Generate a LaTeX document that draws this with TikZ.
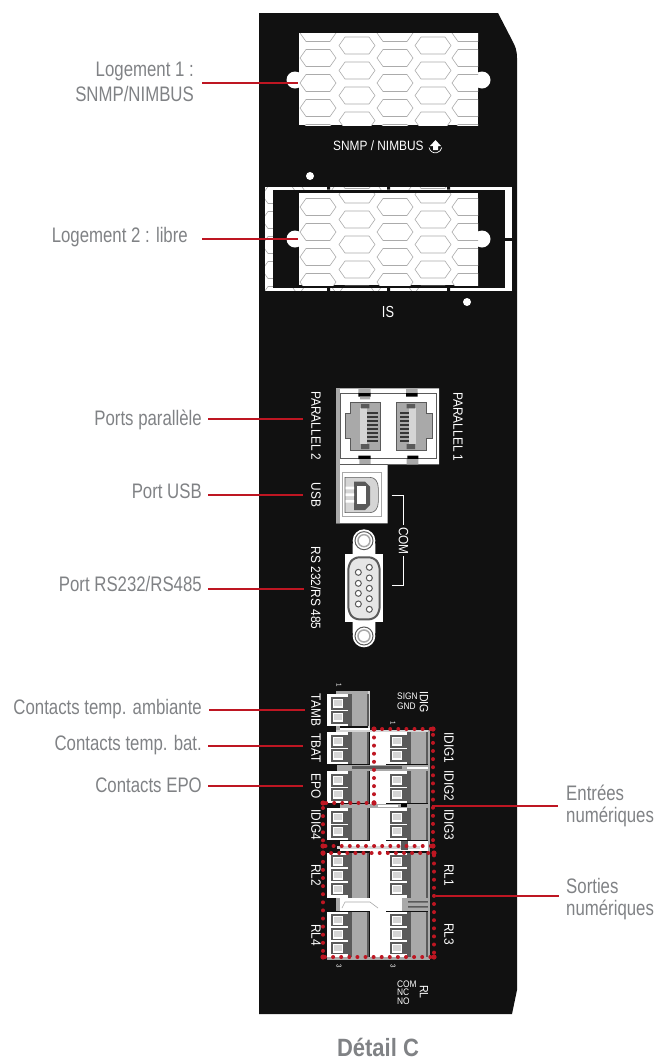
\documentclass[tikz,border=0pt]{standalone}
\usepackage{fontspec}
\setmainfont[FakeStretch=0.8]{Liberation Sans}
\newfontfamily\widerfont[FakeStretch=0.88]{Liberation Sans}
\definecolor{panel}{HTML}{111111}
\definecolor{lab}{HTML}{808285}
\definecolor{rd}{HTML}{BE1622}
\definecolor{hexline}{HTML}{ABABAB}
\definecolor{gA}{HTML}{A9A9A9}
\definecolor{gB}{HTML}{5A5A5A}
\definecolor{gC}{HTML}{D5D5D5}
\tikzset{
 leader/.style={draw=rd,line width=2pt},
 callout/.style={text=lab,font=\fontsize{21}{23}\selectfont,inner sep=0pt,align=right},
 calloutl/.style={text=lab,font=\fontsize{21}{24}\selectfont,inner sep=0pt,align=left,anchor=west},
 silk/.style={text=white,font=\widerfont\fontsize{13.5}{14}\selectfont,inner sep=0pt},
 silkr/.style={silk,rotate=-90},
 tiny/.style={text=white,font=\widerfont\fontsize{9.5}{10}\selectfont,inner sep=0pt},
 reddots/.style={draw=rd,line width=4pt,line cap=round,dash pattern=on 0pt off 8.1pt},
 hexa/.style={draw=hexline,line width=.6pt,fill=white},
}
\newcommand{\hexat}[2]{\draw[hexa] (#1-18,#2) -- (#1-12,#2-8.5) -- (#1+12,#2-8.5) -- (#1+18,#2) -- (#1+12,#2+8.5) -- (#1-12,#2+8.5) -- cycle;}
\newcommand{\hexgrid}[1]{%
 \foreach \cx in {318,395,470}{\foreach \k in {-1,0,1,2,3}{\hexat{\cx}{#1+25*\k}}}
 \foreach \cx in {357,433}{\foreach \k in {-1,0,1,2,3,4}{\hexat{\cx}{#1-12.5+25*\k}}}
}
\newcommand{\term}[3]{%
 \pgfmathsetmacro{\hh}{#3==2?32:45}
 \fill[gB] (#1+20,#2) rectangle (#1+26,#2+\hh);
 \fill[gA] (#1+25,#2) rectangle (#1+40,#2+\hh);
 \fill[gB] (#1+40,#2) rectangle (#1+42,#2+\hh);
 \fill[white] (#1,#2) rectangle (#1+21,#2+\hh);
 \ifnum#3=2
  \foreach \d in {9,23}{\fill[gB] (#1+4,#2+\d-6.5) rectangle (#1+21,#2+\d+6.5);
   \fill[white] (#1+5.5,#2+\d-4.5) rectangle (#1+16,#2+\d+4.5);
   \fill[gC] (#1+7,#2+\d-3) rectangle (#1+14.5,#2+\d+3);}
 \else
  \foreach \d in {8,22,36}{\fill[gB] (#1+4,#2+\d-6) rectangle (#1+21,#2+\d+6);
   \fill[white] (#1+5.5,#2+\d-4.5) rectangle (#1+16,#2+\d+4.5);
   \fill[gC] (#1+7,#2+\d-3) rectangle (#1+14.5,#2+\d+3);}
 \fi
}
\begin{document}
\begin{tikzpicture}[x=1pt,y=-1pt]
\useasboundingbox (0,0) rectangle (663,1061);
% panel
\fill[panel] (259,13) -- (498,13) -- (513,42) .. controls (515,46) and (517,50) .. (517,58) -- (517,990) -- (512,1014) -- (259,1014) -- cycle;
% slot 1
\fill[white] (295,80) circle (8.5) (482,80) circle (8.5);
\begin{scope}
\clip (299,33) rectangle (478,125);
\fill[white] (299,33) rectangle (478,125);
\hexgrid{58}
\end{scope}
\node[silk,anchor=west] (snmp) at (333,146) {SNMP / NIMBUS};
\draw[white,line width=.7pt] (429,147.5) arc[start angle=170,end angle=10,radius=6.5];
\fill[white] (435.5,140) -- (441,146) -- (438,146) -- (438,150) -- (433,150) -- (433,146) -- (430,146) -- cycle;
% slot 2 frame
\fill[white] (310,176) circle (4);
\fill[white] (467,302) circle (4);
\begin{scope}
\clip (265,187) rectangle (512,290.5);
\fill[white] (265,187) rectangle (512,290.5);
\foreach \k in {-1,0,...,4}{\hexat{280}{195+25*\k}}
\foreach \cx in {318,395}{\hexat{\cx}{184}\hexat{\cx}{293}}
\foreach \cx in {357,433}{\hexat{\cx}{180}\hexat{\cx}{293}}
\end{scope}
\fill[panel] (272.5,189.5) rectangle (504.5,287.5);
\foreach \gx in {327,387,447}{\fill[panel] (\gx,186) rectangle (\gx+3,189.5) (\gx,287.5) rectangle (\gx+3,292);}
\fill[panel] (504.5,238) rectangle (513,240.5);
% slot 2
\fill[white] (295,239) circle (8.5) (482,239) circle (8.5);
\begin{scope}
\clip (299,193) rectangle (478,285);
\fill[white] (299,193) rectangle (478,285);
\hexgrid{207}
\end{scope}
\node[silk,font=\fontsize{16}{16}\selectfont] (is) at (388,312) {IS};
% parallel + USB blocks
\begin{scope}[shift={(280,330)},scale=1/3]
\fill[white] (168,175) -- (477,175) -- (477,403) -- (323,403) -- (323,580) -- (168,580) -- cycle;
\fill[gA] (168,175) rectangle (181,580);
\draw[gB,line width=.6pt] (181,190) -- (470,190) -- (470,385) -- (181,385) -- cycle;
\draw[gB,line width=.4pt,fill=gA] (210,218) -- (300,218) -- (300,360) -- (210,360) -- (210,325) -- (195,325) -- (195,250) -- (210,250) -- cycle;
\fill[gC] (240,235) rectangle (262,342);
\foreach \k in {0,...,7}{\fill[gB!60!black] (262,{247+\k*12}) rectangle (293,{253+\k*12});}
\draw[gB,line width=.4pt,fill=gA] (348,218) -- (438,218) -- (438,250) -- (458,250) -- (458,325) -- (438,325) -- (438,360) -- (348,360) -- cycle;
\fill[gC] (388,235) rectangle (408,342);
\foreach \k in {0,...,7}{\fill[gB!60!black] (360,{247+\k*12}) rectangle (388,{253+\k*12});}
\fill[gB] (243,222) rectangle (268,235) (243,342) rectangle (268,357) (380,222) rectangle (405,235) (380,342) rectangle (405,357);
\fill[black] (235,188) rectangle (272,200) (235,377) rectangle (272,387) (378,188) rectangle (413,200) (382,377) rectangle (415,387);
\fill[gA] (235,175) rectangle (272,188) (240,200) rectangle (270,208) (378,175) rectangle (413,188) (238,387) rectangle (272,403) (380,387) rectangle (415,403);
% USB
\draw[gB,line width=.5pt] (181,403) -- (323,403);
\draw[gA,line width=.8pt] (187,428) rectangle (303,560);
\draw[gB,line width=.6pt,fill=gC] (195,442) -- (270,442) .. controls (285,442) and (295,455) .. (295,475) -- (295,515) .. controls (295,535) and (285,548) .. (270,548) -- (195,548) -- cycle;
\fill[gB] (222,455) -- (255,455) -- (270,470) -- (270,525) -- (255,540) -- (222,540) -- cycle;
\fill[white] (232,468) rectangle (258,522);
\fill[white] (197,470) rectangle (222,478) (197,490) rectangle (222,498) (197,510) rectangle (222,518);
% D-sub
\fill[white] (252,632) circle (34) (252,918) circle (34);
\fill[white] (218,640) rectangle (286,680) (218,870) rectangle (286,910);
\fill[white] (195,672) rectangle (308,877);
\draw[gB,line width=1pt] (252,632) circle (27);
\draw[gA,line width=1.5pt] (252,632) circle (18);
\draw[gB,line width=1pt] (252,918) circle (27);
\draw[gA,line width=1.5pt] (252,918) circle (18);
\draw[gB,line width=2pt,rounded corners=5pt,fill=gC!60] (205,705) -- (222,682) -- (282,682) -- (299,705) -- (299,845) -- (282,868) -- (222,868) -- (205,845) -- cycle;
\foreach \py in {727,760,790,822}{\draw[gB,line width=1pt,fill=white] (235,\py) circle (9);}
\foreach \py in {712,744,775,806,838}{\draw[gB,line width=1pt,fill=white] (268,\py) circle (9);}
\coordinate (c1) at (335,497);\coordinate (c2) at (370,497);\coordinate (c3) at (370,585);
\coordinate (c4) at (370,678);\coordinate (c5) at (370,767);\coordinate (c6) at (335,767);
\draw[white,line width=.6pt] (c1) -- (c2) -- (c3);
\draw[white,line width=.6pt] (c4) -- (c5) -- (c6);
\end{scope}
\node[silkr] (com) at (403.5,541) {COM};
\node[silkr] (par2) at (316,426) {PARALLEL 2};
\node[silkr] (par1) at (458,427) {PARALLEL 1};
\node[silkr] (usb) at (316,495) {USB};
\node[silkr] (rs) at (316,588) {RS 232/RS 485};
% terminal zone background
\fill[gA] (336,691) rectangle (340,735);
\fill[gA] (340,691) rectangle (370,694);
\fill[gC] (368,691) rectangle (370,730);
\fill[white] (340,727.5) rectangle (370,730);
\fill[white] (370,730) rectangle (386,957);
\fill[gC] (336,730) rectangle (430,732);
\term{327}{694}{2}
\term{327}{732}{2}
\term{327}{771}{2}
\term{327}{808}{2}
\term{327}{853}{3}
\term{327}{912}{3}
\term{386}{732}{2}
\term{386}{771}{2}
\term{386}{808}{2}
\term{386}{853}{3}
\term{386}{912}{3}
\fill[gA] (337,764.5) rectangle (428,770.5);
\fill[gB] (352,766) rectangle (402,769);
\fill[white] (407,766.5) rectangle (428,768.5);
\fill[gA] (340,803.5) rectangle (428,807.5);
\fill[white] (378,804.5) rectangle (398,806.5);
\fill[black] (401,803.5) rectangle (407,806.5);
\fill[white] (340,841) rectangle (430,851);
\fill[gC] (337,846) rectangle (420,849);
\fill[gB] (401,841) rectangle (408,850);
\fill[white] (336,898) rectangle (402,911);
\fill[gA] (336,898) rectangle (340,911);
\draw[gA,line width=.6pt] (342,908) -- (345,902) -- (370,902) -- (378,908);
\fill[gA] (402,898) rectangle (429,911);
\fill[gB] (408,901) rectangle (428,902.5) (408,906) rectangle (428,907.5);
\fill[gA] (428,730) rectangle (430,959);
\fill[gA] (327,957) rectangle (430,959.5);
% dotted outlines
\coordinate (e1) at (374,729);\coordinate (e2) at (433,729);\coordinate (e3) at (433,846);
\coordinate (e4) at (323,846);\coordinate (e5) at (323,803);\coordinate (e6) at (374,803);
\draw[reddots] (e1) -- (e2) -- (e3) -- (e4) -- (e5) -- (e6) -- (e1);
\coordinate (s1) at (323,853);\coordinate (s2) at (434,853);\coordinate (s3) at (434,957);\coordinate (s4) at (323,957);
\draw[reddots] (s1) -- (s2) -- (s3) -- (s4) -- (s1);
\foreach \ct in {e1,e2,e3,e4,e5,e6,s1,s2,s3,s4}{\fill[rd] (\ct) circle (2.6);}
% terminal labels
\node[silkr] (tamb) at (316,710) {TAMB};
\node[silkr] (tbat) at (316,748) {TBAT};
\node[silkr] (epo) at (316,786) {EPO};
\node[silkr] (idig4) at (316,825) {IDIG4};
\node[silkr] (rl2) at (316,875) {RL2};
\node[silkr] (rl4) at (316,935) {RL4};
\node[silkr] (idig1) at (449,748) {IDIG1};
\node[silkr] (idig2) at (449,786) {IDIG2};
\node[silkr] (idig3) at (449,825) {IDIG3};
\node[silkr] (rl1) at (449,875) {RL1};
\node[silkr] (rl3) at (449,934) {RL3};
\node[tiny,rotate=-90,font=\widerfont\fontsize{7}{7}\selectfont] (n1a) at (339,685) {1};
\node[tiny,rotate=-90,font=\widerfont\fontsize{7}{7}\selectfont] (n1b) at (393,723) {1};
\node[tiny,rotate=-90,font=\widerfont\fontsize{7}{7}\selectfont] (n3a) at (339,966) {3};
\node[tiny,rotate=-90,font=\widerfont\fontsize{7}{7}\selectfont] (n3b) at (393,966) {3};
\node[tiny,anchor=west] (sign) at (397,696) {SIGN};
\node[tiny,anchor=west] (gnd) at (397,706) {GND};
\node[silkr,font=\widerfont\fontsize{12}{12}\selectfont] (idig) at (424,702) {IDIG};
\node[tiny,anchor=west] (comt) at (397,984) {COM};
\node[tiny,anchor=west] (nct) at (397,992.5) {NC};
\node[tiny,anchor=west] (not) at (397,1001) {NO};
\node[silkr,font=\widerfont\fontsize{12}{12}\selectfont] (rlt) at (424,992) {RL};
% callouts
\node[callout,anchor=east] (L1a) at (194,71) {Logement 1 :};
\node[callout,anchor=east] (L1b) at (194,94) {SNMP/NIMBUS};
\node[callout,anchor=east] (L2) at (188,237) {Logement 2 : libre};
\node[callout,anchor=east] (PP) at (202,420) {Ports parallèle};
\node[callout,anchor=east] (PU) at (202,491) {Port USB};
\node[callout,anchor=east] (PR) at (202,584) {Port RS232/RS485};
\node[callout,anchor=east] (CA) at (202,709) {Contacts temp. ambiante};
\node[callout,anchor=east] (CB) at (202,745) {Contacts temp. bat.};
\node[callout,anchor=east] (CE) at (202,785) {Contacts EPO};
\node[calloutl] (E1) at (566,793) {Entrées};
\node[calloutl] (E2) at (566,817) {numériques};
\node[calloutl] (S1) at (566,886) {Sorties};
\node[calloutl] (S2) at (566,910) {numériques};
\node[text=lab,font=\widerfont\bfseries\fontsize{25}{26}\selectfont,inner sep=0pt,anchor=base] (det) at (378,1056.5) {Détail C};
% leaders
\coordinate (la0) at (202,83);\coordinate (la1) at (298,83);
\coordinate (lb0) at (202,239);\coordinate (lb1) at (298,239);
\coordinate (lc0) at (208,419);\coordinate (lc1) at (303,419);
\coordinate (ld0) at (208,495);\coordinate (ld1) at (303,495);
\coordinate (le0) at (208,589);\coordinate (le1) at (304,589);
\coordinate (lf0) at (209,710);\coordinate (lf1) at (305,710);
\coordinate (lg0) at (208,746);\coordinate (lg1) at (303,746);
\coordinate (lh0) at (208,786);\coordinate (lh1) at (303,786);
\coordinate (li0) at (432,806);\coordinate (li1) at (558,806);
\coordinate (lj0) at (436,896);\coordinate (lj1) at (559,896);
\draw[leader] (la0) -- (la1);
\draw[leader] (lb0) -- (lb1);
\draw[leader] (lc0) -- (lc1);
\draw[leader] (ld0) -- (ld1);
\draw[leader] (le0) -- (le1);
\draw[leader] (lf0) -- (lf1);
\draw[leader] (lg0) -- (lg1);
\draw[leader] (lh0) -- (lh1);
\draw[leader] (li0) -- (li1);
\draw[leader] (lj0) -- (lj1);
\end{tikzpicture}
\end{document}
